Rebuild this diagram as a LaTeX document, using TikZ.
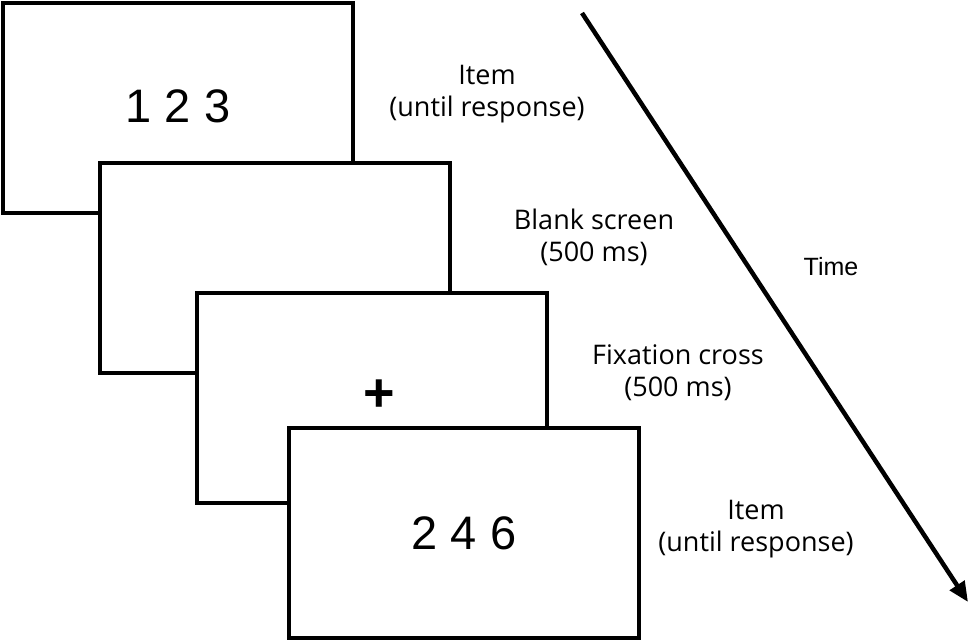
\documentclass[tikz,border=0pt]{standalone}
\usepackage{fontspec}
\setmainfont{Open Sans}
\newfontfamily\arialfont{Liberation Sans}
\usetikzlibrary{arrows.meta}
\begin{document}
\begin{tikzpicture}[x=1pt,y=-1pt,line join=miter,>={Triangle[length=20pt,width=17pt]},
	screen/.style={draw,fill=white,line width=4.5pt,minimum width=350pt,minimum height=210pt,inner sep=0pt,font=\arialfont\fontsize{47}{56}\selectfont},
	caption/.style={align=center,anchor=north,inner sep=0pt,font=\fontsize{27}{32}\selectfont}]
			\useasboundingbox (0,0) rectangle (969,642);
			% screens, back to front
			\node[screen] (scrA) at (178,108) {\raisebox{3pt}{1 2 3}};
			\node[screen] (scrB) at (275,268) {};
			\node[screen] (scrC) at (372,398) {};
			\node[font=\arialfont\bfseries\fontsize{54}{58}\selectfont,inner sep=0pt] (fix) at (379,396) {+};
			\node[screen] (scrD) at (464,533) {2 4 6};
			% captions
			\node[caption] (capA) at (487,65) {Item\\(until response)};
			\node[caption] (capB) at (594,209) {Blank screen\\(500 ms)};
			\node[caption] (capC) at (678,344) {Fixation cross\\(500 ms)};
			\node[caption] (capD) at (756,500) {Item\\(until response)};
			% time axis
			\coordinate (tStart) at (582,13);
			\coordinate (tEnd) at (968,602);
			\draw[->,line width=4.5pt] (tStart)--(tEnd);
			\node[anchor=base,font=\arialfont\fontsize{25}{30}\selectfont] (tLabel) at (831,275) {Time};
	\end{tikzpicture}
\end{document}
